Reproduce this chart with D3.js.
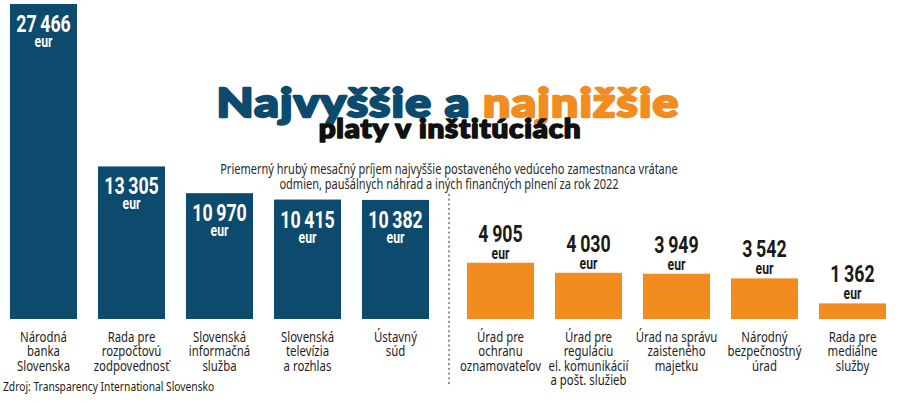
<!DOCTYPE html>
<html>
<head>
<meta charset="utf-8">
<script src="https://cdn.jsdelivr.net/npm/d3@7/dist/d3.min.js"></script>
<style>
  html, body { margin: 0; padding: 0; background: #ffffff; }
  svg { display: block; }
</style>
</head>
<body>
<svg id="chart" width="900" height="402"></svg>
<script>
// ---- data ----
const highCategories = ["Národná\nbanka\nSlovenska", "Rada pre\nrozpočtovú\nzodpovednosť", "Slovenská\ninformačná\nslužba", "Slovenská\ntelevízia\na rozhlas", "Ústavný\nsúd"];
const highValues = [27466, 13305, 10970, 10415, 10382];
const lowCategories = ["Úrad pre\nochranu\noznamovateľov", "Úrad pre\nreguláciu\nel. komunikácií\na pošt. služieb", "Úrad na správu\nzaisteného\nmajetku", "Národný\nbezpečnostný\núrad", "Rada pre\nmediálne\nslužby"];
const lowValues = [4905, 4030, 3949, 3542, 1362];
const unitLabel = "eur";
const titleHigh = "Najvyššie";
const titleMid = " a ";
const titleLow = "najnižšie";
const titleLine2 = "platy v inštitúciách";
const subtitleLines = ["Priemerný hrubý mesačný príjem najvyššie postaveného vedúceho zamestnanca vrátane", "odmien, paušálnych náhrad a iných finančných plnení za rok 2022"];
const sourceText = "Zdroj: Transparency International Slovensko";

// ---- style ----
const BLUE = "#0c4a6e";
const ORANGE = "#f28c1f";
const DARK = "#1e1e1e";
const condFont = "'Noto Sans', 'Open Sans', sans-serif";
const numFont = "Roboto, 'Noto Sans', sans-serif";
const heavyFont = "Lato, Inter, sans-serif";

const svg = d3.select("#chart");
const baseY = 319;

const allValues = highValues.concat(lowValues);
const y = d3.scaleLinear().domain([0, d3.max(allValues)]).range([baseY, 4]);

const xHigh = d3.scaleBand().domain(highCategories).range([10, 429]).paddingInner(0.2386).paddingOuter(0);
const xLow = d3.scaleBand().domain(lowCategories).range([467, 886]).paddingInner(0.2386).paddingOuter(0);

const fmt = d3.formatLocale({decimal: ",", thousands: "\u2009", grouping: [3], currency: ["", ""]}).format(",d");

function sText(g, x, yy, txt, opts) {
  return g.append("text")
    .attr("transform", `translate(${x},${yy}) scale(${opts.sx || 1},1)`)
    .attr("text-anchor", opts.anchor || "middle")
    .attr("font-family", opts.family || condFont)
    .attr("font-size", opts.size)
    .attr("font-weight", opts.weight || 400)
    .attr("fill", opts.fill || DARK)
    .text(txt);
}

// ---- title ----
const tg = svg.append("g");
const t1 = tg.append("text")
  .attr("transform", "translate(448,117) scale(1.2,1)")
  .attr("text-anchor", "middle")
  .attr("font-family", heavyFont)
  .attr("font-weight", 900)
  .attr("font-size", 40)
  .attr("letter-spacing", 1)
  .attr("stroke-width", 2.3)
  .attr("stroke-linejoin", "round")
  .attr("paint-order", "stroke");
t1.append("tspan").attr("fill", BLUE).attr("stroke", BLUE).text(titleHigh);
t1.append("tspan").attr("fill", BLUE).attr("stroke", BLUE).text(titleMid);
t1.append("tspan").attr("fill", ORANGE).attr("stroke", ORANGE).text(titleLow);
tg.append("text")
  .attr("transform", "translate(450,138) scale(1.14,1)")
  .attr("text-anchor", "middle")
  .attr("font-family", heavyFont)
  .attr("font-weight", 900)
  .attr("font-size", 26)
  .attr("letter-spacing", 0.7)
  .attr("fill", "#111")
  .attr("stroke", "#111")
  .attr("stroke-width", 1.6)
  .attr("stroke-linejoin", "round")
  .text(titleLine2);
subtitleLines.forEach((l, i) => {
  sText(tg, 449, 174 + i * 15, l, {size: 14.5, sx: 0.76, fill: "#2a2a2a"});
});

// ---- bars ----
function drawGroup(cats, vals, x, color, inside) {
  const g = svg.append("g");
  const data = cats.map((c, i) => ({c, v: vals[i]}));
  g.selectAll("rect").data(data).join("rect")
    .attr("x", d => x(d.c))
    .attr("y", d => y(d.v))
    .attr("width", x.bandwidth())
    .attr("height", d => baseY - y(d.v))
    .attr("fill", color);
  data.forEach(d => {
    const cx = x(d.c) + x.bandwidth() / 2;
    const top = y(d.v);
    const fill = inside ? "#ffffff" : "#1a1a1a";
    const nY = inside ? top + 28 : top - 21;
    const eY = inside ? top + 43 : top - 4;
    sText(g, cx, nY, fmt(d.v), {family: numFont, size: 24, weight: 700, sx: 0.74, fill});
    sText(g, cx, eY, unitLabel, {family: numFont, size: 16, weight: 700, sx: 0.76, fill});
    d.c.split("\n").forEach((line, i) => {
      sText(g, cx, 341.5 + i * 14.6, line, {size: 15, sx: 0.76, fill: DARK});
    });
  });
}
drawGroup(highCategories, highValues, xHigh, BLUE, true);
drawGroup(lowCategories, lowValues, xLow, ORANGE, false);

// ---- divider ----
svg.append("line")
  .attr("x1", 449).attr("x2", 449)
  .attr("y1", 195).attr("y2", 383)
  .attr("stroke", "#8c8c8c")
  .attr("stroke-width", 2.3)
  .attr("stroke-linecap", "round")
  .attr("stroke-dasharray", "0,4.7");

// ---- source ----
sText(svg, 3, 391, sourceText, {size: 13.5, sx: 0.76, anchor: "start", fill: "#222"});
</script>
</body>
</html>
